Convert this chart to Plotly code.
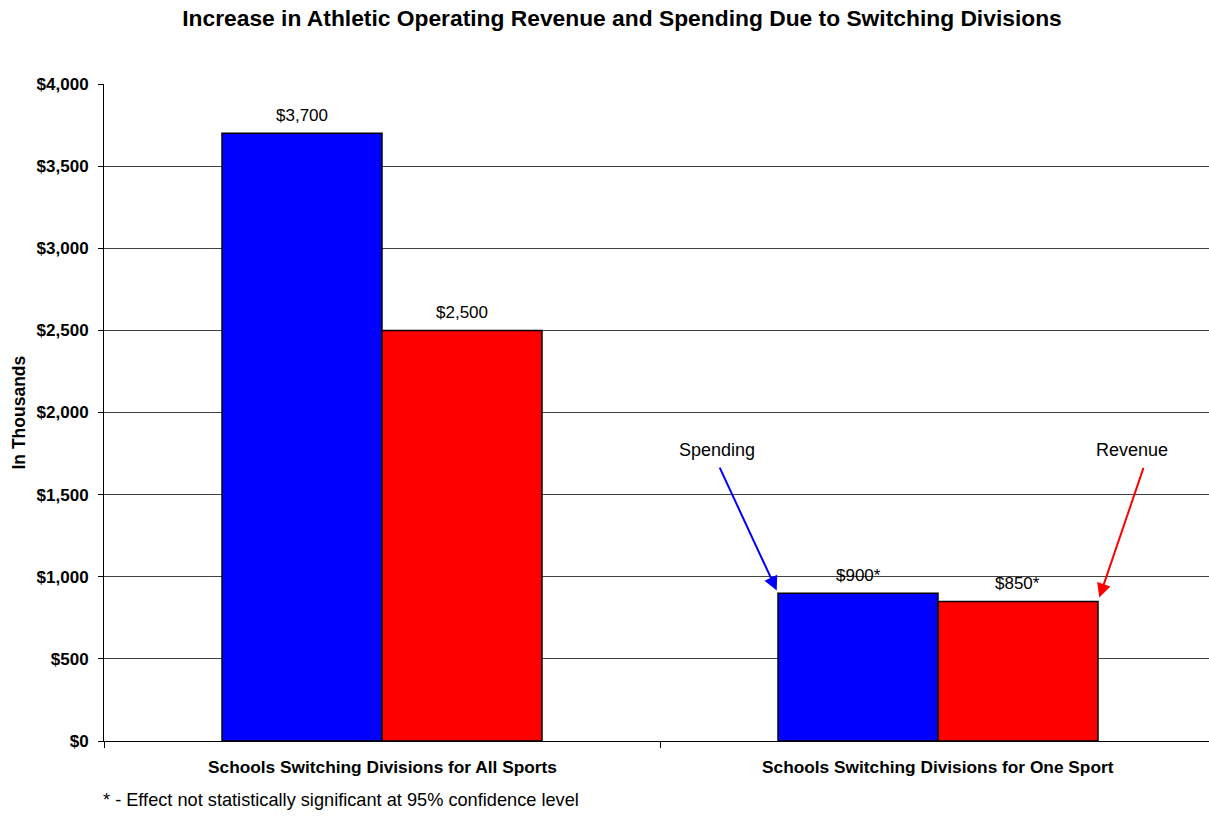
import plotly.graph_objects as go

# ---- data ----
categories = ["Schools Switching Divisions for All Sports",
              "Schools Switching Divisions for One Sport"]
spending = [3700, 900]
revenue = [2500, 850]
spending_labels = ["$3,700", "$900*"]
revenue_labels = ["$2,500", "$850*"]
y_tick_vals = [0, 500, 1000, 1500, 2000, 2500, 3000, 3500, 4000]
y_tick_text = ["$0", "$500", "$1,000", "$1,500", "$2,000", "$2,500",
               "$3,000", "$3,500", "$4,000"]
title_text = "Increase in Athletic Operating Revenue and Spending Due to Switching Divisions"
y_title = "In Thousands"
footnote = "* - Effect not statistically significant at 95% confidence level"
series_names = ["Spending", "Revenue"]

FONT = "Liberation Sans, Arial, sans-serif"
BARGAP = 0.4245
bar_w = (1 - BARGAP) / 2
idx = list(range(len(categories)))

fig = go.Figure()
fig.add_trace(go.Bar(x=idx, y=spending, name=series_names[0],
                     marker=dict(color="#0000FF", line=dict(color="black", width=1.5))))
fig.add_trace(go.Bar(x=idx, y=revenue, name=series_names[1],
                     marker=dict(color="#FF0000", line=dict(color="black", width=1.5))))

annotations = []
# value labels
for i in idx:
    annotations.append(dict(x=i - bar_w / 2, y=spending[i], xref="x", yref="y",
                            text=spending_labels[i], showarrow=False, yanchor="bottom",
                            yshift=6, font=dict(family=FONT, size=17, color="black")))
    annotations.append(dict(x=i + bar_w / 2, y=revenue[i], xref="x", yref="y",
                            text=revenue_labels[i], showarrow=False, yanchor="bottom",
                            yshift=6, font=dict(family=FONT, size=17, color="black")))
# category labels
for i in idx:
    annotations.append(dict(x=i, y=0, xref="x", yref="paper", text="<b>%s</b>" % categories[i],
                            showarrow=False, xanchor="center", yanchor="middle", yshift=-26,
                            font=dict(family=FONT, size=17.3, color="black")))
# series callouts
annotations.append(dict(x=(717 - 104) / 1105, y=(741 - 450) / 657, xref="paper", yref="paper",
                        text=series_names[0], showarrow=False, xanchor="center", yanchor="middle",
                        font=dict(family=FONT, size=18, color="black")))
annotations.append(dict(x=(1132 - 104) / 1105, y=(741 - 450) / 657, xref="paper", yref="paper",
                        text=series_names[1], showarrow=False, xanchor="center", yanchor="middle",
                        font=dict(family=FONT, size=18, color="black")))
annotations.append(dict(x=1 - bar_w, y=spending[1], xref="x", yref="y", text="",
                        showarrow=True, arrowhead=2, arrowsize=1.4, arrowwidth=2,
                        arrowcolor="#0000FF", ax=-59, ay=-127, standoff=3))
annotations.append(dict(x=1 + bar_w, y=revenue[1], xref="x", yref="y", text="",
                        showarrow=True, arrowhead=2, arrowsize=1.4, arrowwidth=2,
                        arrowcolor="#FF0000", ax=46, ay=-135, standoff=4))
# y title
annotations.append(dict(x=0, y=0.5, xref="paper", yref="paper", text="<b>%s</b>" % y_title,
                        showarrow=False, textangle=-90, xanchor="center", xshift=-86,
                        font=dict(family=FONT, size=17.5, color="black")))
# footnote
annotations.append(dict(x=0, y=0, xref="paper", yref="paper", text=footnote,
                        showarrow=False, xanchor="left", yanchor="middle", xshift=-3, yshift=-59,
                        font=dict(family=FONT, size=18.2, color="black")))

fig.update_layout(
    width=1209, height=817,
    margin=dict(l=104, r=0, t=84, b=76),
    paper_bgcolor="white", plot_bgcolor="white",
    barmode="group", bargap=BARGAP, bargroupgap=0,
    showlegend=False,
    title=dict(text="<b>%s</b>" % title_text, x=622 / 1209, xanchor="center",
               xref="container", y=1 - 18 / 817, yref="container", yanchor="middle",
               font=dict(family=FONT, size=22.8, color="black")),
    font=dict(family=FONT, size=17, color="black"),
    xaxis=dict(range=[-0.5, 1 + (1209 - 938) / 556], tickvals=[-0.5, 0.5, 1.5],
               ticktext=["", "", ""], ticks="outside", ticklen=6, tickcolor="black",
               showgrid=False, zeroline=False, showline=True, linecolor="black",
               linewidth=1),
    yaxis=dict(range=[0, 4000], tickvals=y_tick_vals, ticktext=["<b>%s</b>" % t for t in y_tick_text],
               ticks="outside", ticklen=5, tickcolor="black", ticklabelstandoff=6,
               showgrid=True, gridcolor="#404040", gridwidth=1,
               zeroline=False, showline=True, linecolor="black", linewidth=1,
               tickfont=dict(family=FONT, size=17, color="black")),
    annotations=annotations,
)

fig.write_html("out.html", config={"displayModeBar": False},
               post_script="document.body.style.margin='0';document.body.style.overflow='hidden';")
